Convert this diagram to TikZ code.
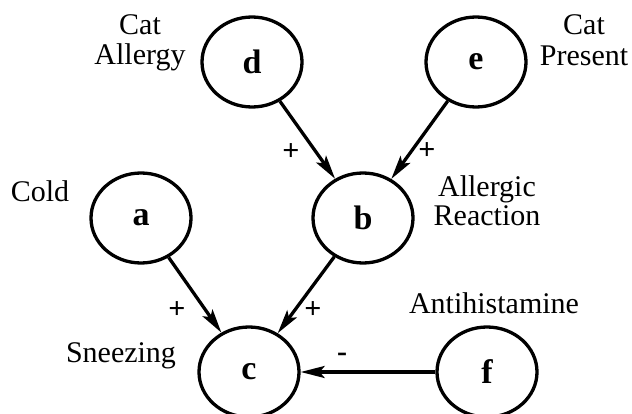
\documentclass[tikz,border=0pt]{standalone}
\usepackage{fontspec}
\setmainfont{Liberation Serif}
\usetikzlibrary{shapes.geometric,arrows.meta}
\begin{document}
\begin{tikzpicture}[x=1pt,y=-1pt,
  var/.style={ellipse,draw,line width=3.3pt,minimum width=100pt,minimum height=90pt,inner sep=0pt,
    font=\fontsize{34}{34}\selectfont\bfseries},
  lbl/.style={font=\fontsize{30}{30}\selectfont,align=center,inner sep=0pt,anchor=base},
  link/.style={line width=3.3pt,-{Stealth[length=24pt,width=12pt,inset=5pt]}},
  sign/.style={font=\fontsize{30}{30}\selectfont\bfseries,inner sep=0pt}]
\useasboundingbox[fill=white] (0,0) rectangle (632,414);

\node[var] (d) at (252,62) {d};
\node[var] (e) at (476,62) {e};
\node[var] (a) at (141,218) {a};
\node[var] (b) at (363,218) {b};
\node[var] (c) at (249,372) {c};
\node[var] (f) at (487,372) {f};

\node[lbl] (ld1) at (140,35) {Cat};
\node[lbl] (ld2) at (140,65) {Allergy};
\node[lbl] (le1) at (584,35) {Cat};
\node[lbl] (le2) at (584,66) {Present};
\node[lbl] (la) at (40,202) {Cold};
\node[lbl] (lb1) at (487,197) {Allergic};
\node[lbl] (lb2) at (487,226) {Reaction};
\node[lbl] (lc) at (121,362) {Sneezing};
\node[lbl] (lf) at (494,313) {Antihistamine};

\draw[link] (d) -- (b);
\draw[link] (e) -- (b);
\draw[link] (a) -- (c);
\draw[link] (b) -- (c);
\draw[link] (f) -- (c);

\node[sign] (s1) at (291,152) {+};
\node[sign] (s2) at (427,151) {+};
\node[sign] (s3) at (177,310) {+};
\node[sign] (s4) at (313,310) {+};
\node[sign] (s5) at (342,357) {-};
\end{tikzpicture}
\end{document}
